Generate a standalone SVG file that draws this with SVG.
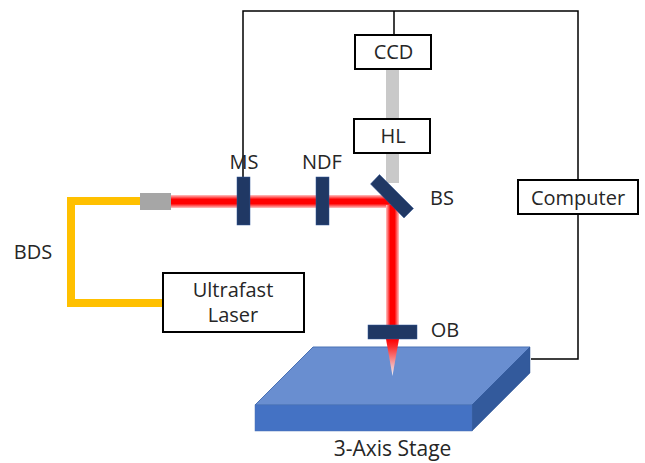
<svg xmlns="http://www.w3.org/2000/svg" width="645" height="463" viewBox="0 0 645 463">
<style>
text{font-family:"Open Sans","Noto Sans","Liberation Sans",sans-serif;font-size:20px;fill:#262626;text-anchor:middle}
.box{fill:#fff;stroke:#000;stroke-width:2}
.wire{fill:none;stroke:#000;stroke-width:1.500}
.dark{fill:#203864;stroke:#2f5597;stroke-width:.5}
</style>
<defs>
<linearGradient id="bh" x1="0" y1="0" x2="0" y2="1"><stop offset="0" stop-color="#ffc4c4"/><stop offset=".33" stop-color="#f00"/><stop offset=".67" stop-color="#f00"/><stop offset="1" stop-color="#ffc4c4"/></linearGradient>
<linearGradient id="bv" x1="0" y1="0" x2="1" y2="0"><stop offset="0" stop-color="#ffc4c4"/><stop offset=".33" stop-color="#f00"/><stop offset=".67" stop-color="#f00"/><stop offset="1" stop-color="#ffc4c4"/></linearGradient>
<linearGradient id="tip" x1="0" y1="0" x2="0" y2="1"><stop offset="0" stop-color="#f00"/><stop offset=".2" stop-color="#fa2a2a"/><stop offset="1" stop-color="#fff" stop-opacity=".9"/></linearGradient>
</defs>
<g id="connectors">
<path class="wire" d="M243 178V11L578 11V184M394 11V35M578 213V359H531"/>
<path d="M163 303H71V201H142" fill="none" stroke="#ffc000" stroke-width="8"/>
<rect x="386" y="69" width="13" height="50" fill="#c9c9c9"/>
<rect x="386" y="153" width="13" height="30" fill="#c9c9c9"/>
<rect x="171" y="195" width="220" height="13" fill="url(#bh)"/>
<rect x="386" y="205" width="13" height="120" fill="url(#bv)"/>
</g>
<g id="stage">
<path d="M313 347H530L472 405H255Z" fill="#698ed0" stroke="#4a72b5"/>
<path d="M530 347V373L472 431V405Z" fill="#335a9c" stroke="#2f5597" stroke-width=".5"/>
<rect x="255" y="405" width="217" height="26" fill="#4472c4" stroke="#4a72b5" stroke-width=".5"/>
<text x="392.500" y="456" style="font-size:21px">3-Axis Stage</text>
</g>
<g id="beam-tip"><path d="M386 339H399L392.500 376Z" fill="url(#tip)"/></g>
<g id="ccd"><rect class="box" x="355" y="35" width="76" height="34"/><text x="393.500" y="59">CCD</text></g>
<g id="hl"><rect class="box" x="354" y="119" width="76" height="34"/><text x="393" y="143">HL</text></g>
<g id="computer"><rect class="box" x="518" y="180" width="120" height="34"/><text x="578" y="205">Computer</text></g>
<g id="laser"><rect class="box" x="163" y="273" width="141" height="59"/><text x="233" y="297">Ultrafast</text><text x="233" y="322">Laser</text></g>
<g id="collimator"><rect x="140" y="193" width="31" height="17" fill="#a6a6a6"/></g>
<g id="ms"><rect class="dark" x="237" y="177" width="13" height="48"/><text x="244" y="169">MS</text></g>
<g id="ndf"><rect class="dark" x="316" y="177" width="13" height="48"/><text x="322" y="169">NDF</text></g>
<g id="bs"><path class="dark" d="M379.500 174.500L413.500 208.500L404 218L370.500 184Z"/><text x="442" y="205">BS</text></g>
<g id="ob"><rect class="dark" x="368" y="325" width="49" height="14"/><text x="445" y="337">OB</text></g>
<g id="bds"><text x="33" y="259">BDS</text></g>
</svg>
